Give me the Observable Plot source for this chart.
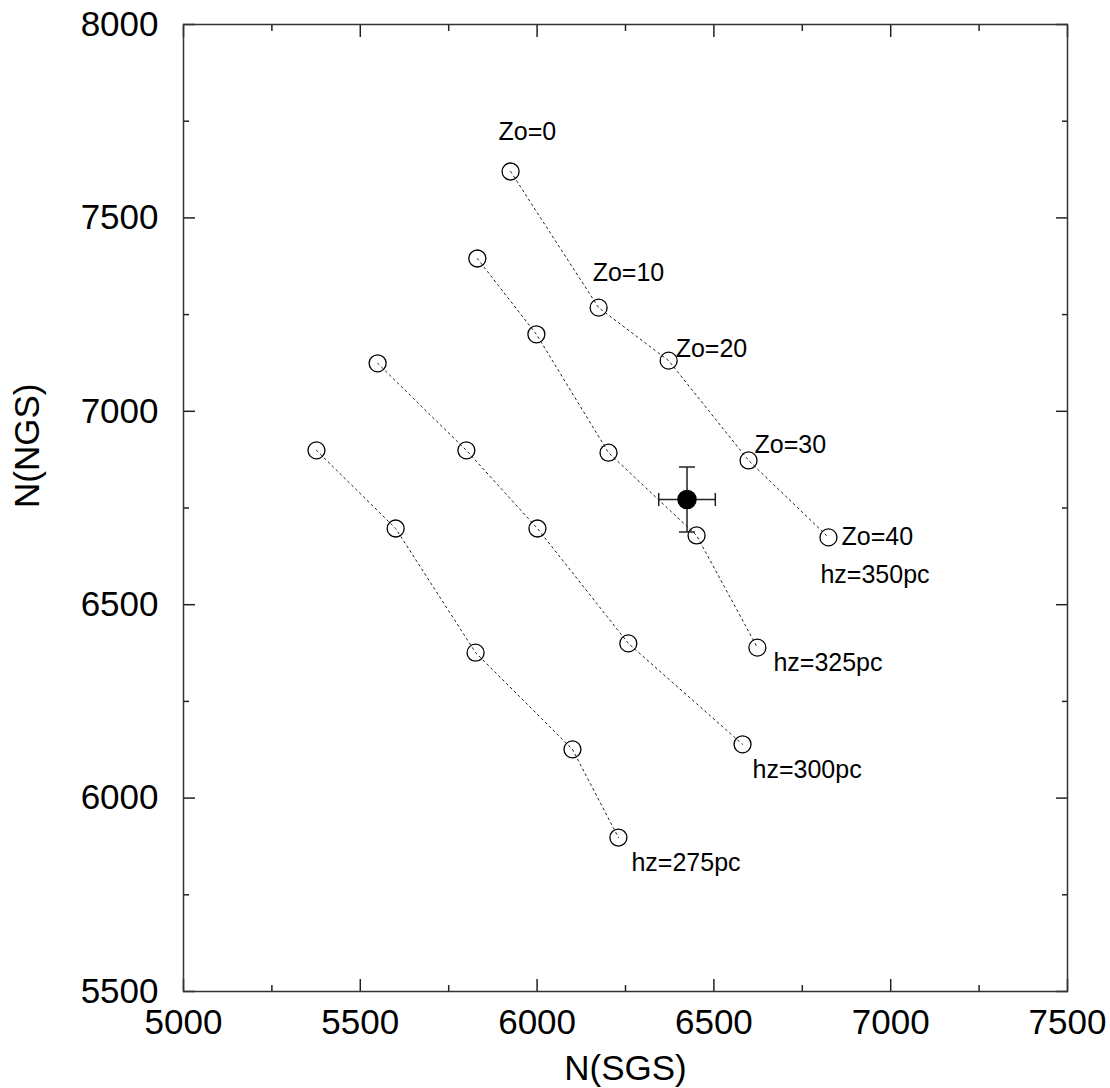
<!DOCTYPE html>
<html>
<head>
<meta charset="utf-8">
<script src="https://cdn.jsdelivr.net/npm/d3@7"></script>
<script src="https://cdn.jsdelivr.net/npm/@observablehq/plot@0.6"></script>
<style>
  body { margin: 0; background: #fff; }
  #chart svg { display: block; }
</style>
</head>
<body>
<div id="chart"></div>
<script>
// ---- data ----
const zoValues = [0, 10, 20, 30, 40];
const hzValues = [275, 300, 325, 350];
const hz275X = [5376, 5600, 5826, 6100, 6230];
const hz275Y = [6899, 6697, 6376, 6126, 5898];
const hz300X = [5549, 5800, 6001, 6258, 6581];
const hz300Y = [7124, 6899, 6697, 6400, 6139];
const hz325X = [5831, 5998, 6202, 6451, 6623];
const hz325Y = [7395, 7199, 6893, 6679, 6389];
const hz350X = [5925, 6174, 6372, 6598, 6824];
const hz350Y = [7620, 7268, 7131, 6873, 6674];
const obsX = [6424];
const obsY = [6772];
const obsErrX = [80];
const obsErrY = [84];
const xTicksMajor = [5000, 5500, 6000, 6500, 7000, 7500];
const xTicksMinor = [5250, 5750, 6250, 6750, 7250];
const yTicksMajor = [5500, 6000, 6500, 7000, 7500, 8000];
const yTicksMinor = [5750, 6250, 6750, 7250, 7750];
const xTitle = "N(SGS)";
const yTitle = "N(NGS)";

// ---- build table ----
const seriesX = [hz275X, hz300X, hz325X, hz350X];
const seriesY = [hz275Y, hz300Y, hz325Y, hz350Y];
const models = [];
hzValues.forEach((hz, s) => {
  zoValues.forEach((zo, i) => {
    models.push({hz, zo, x: seriesX[s][i], y: seriesY[s][i]});
  });
});
const obs = obsX.map((x, i) => ({x, y: obsY[i], ex: obsErrX[i], ey: obsErrY[i]}));
const capsV = obs.flatMap(d => [{x: d.x - d.ex, y: d.y}, {x: d.x + d.ex, y: d.y}]);
const capsH = obs.flatMap(d => [{x: d.x, y: d.y - d.ey}, {x: d.x, y: d.y + d.ey}]);

const vbar = {draw(ctx, size) { const r = Math.sqrt(size / Math.PI); ctx.moveTo(0, -r); ctx.lineTo(0, r); }};
const hbar = {draw(ctx, size) { const r = Math.sqrt(size / Math.PI); ctx.moveTo(-r, 0); ctx.lineTo(r, 0); }};

const font = "Liberation Sans, Arial, Helvetica, sans-serif";
const labelSize = 25;
const pt = (hz, zo) => models.filter(d => d.hz === hz && d.zo === zo);
const label = (data, text, dx, dy) => Plot.text(data, {x: "x", y: "y", text: () => text, dx, dy, textAnchor: "start", fontSize: labelSize, fill: "#000"});

const blank = () => "";
const tickStyle = {stroke: "#222", strokeWidth: 1.5};

const chart = Plot.plot({
  width: 1110,
  height: 1088,
  marginLeft: 183,
  marginRight: 43,
  marginTop: 24,
  marginBottom: 97,
  style: {fontFamily: font, background: "#fff", color: "#000"},
  x: {domain: [5000, 7500], label: null},
  y: {domain: [5500, 8000], label: null},
  marks: [
    // tick labels
    Plot.axisX(xTicksMajor, {anchor: "bottom", tickSize: 0, tickPadding: 18, fontSize: 35, label: null, tickFormat: d => String(d)}),
    Plot.axisY(yTicksMajor, {anchor: "left", tickSize: 0, tickPadding: 25, fontSize: 35, label: null, tickFormat: d => String(d)}),
    // inward ticks on all sides
    Plot.axisX(xTicksMajor, {anchor: "bottom", tickSize: -12, tickFormat: blank, label: null, ...tickStyle}),
    Plot.axisX(xTicksMinor, {anchor: "bottom", tickSize: -6, tickFormat: blank, label: null, ...tickStyle}),
    Plot.axisX(xTicksMajor, {anchor: "top", tickSize: -12, tickFormat: blank, label: null, ...tickStyle}),
    Plot.axisX(xTicksMinor, {anchor: "top", tickSize: -6, tickFormat: blank, label: null, ...tickStyle}),
    Plot.axisY(yTicksMajor, {anchor: "left", tickSize: -12, tickFormat: blank, label: null, ...tickStyle}),
    Plot.axisY(yTicksMinor, {anchor: "left", tickSize: -6, tickFormat: blank, label: null, ...tickStyle}),
    Plot.axisY(yTicksMajor, {anchor: "right", tickSize: -12, tickFormat: blank, label: null, ...tickStyle}),
    Plot.axisY(yTicksMinor, {anchor: "right", tickSize: -6, tickFormat: blank, label: null, ...tickStyle}),
    Plot.frame({stroke: "#333", strokeWidth: 1.5}),
    // axis titles
    Plot.text([xTitle], {frameAnchor: "bottom", dy: 88, fontSize: 35, fill: "#000"}),
    Plot.text([yTitle], {frameAnchor: "left", dx: -156, rotate: -90, fontSize: 35, fill: "#000"}),
    // model lines and points
    Plot.line(models, {x: "x", y: "y", z: "hz", stroke: "#222", strokeWidth: 1, strokeDasharray: "2,3.5"}),
    Plot.dot(models, {x: "x", y: "y", r: 8.5, stroke: "#000", strokeWidth: 1.3, fill: "none"}),
    // observed point with error bars
    Plot.link(obs, {x1: d => d.x - d.ex, x2: d => d.x + d.ex, y1: "y", y2: "y", stroke: "#222", strokeWidth: 1.5}),
    Plot.link(obs, {x1: "x", x2: "x", y1: d => d.y - d.ey, y2: d => d.y + d.ey, stroke: "#222", strokeWidth: 1.5}),
    Plot.dot(capsV, {x: "x", y: "y", symbol: vbar, r: 6.5, stroke: "#222", strokeWidth: 1.5}),
    Plot.dot(capsH, {x: "x", y: "y", symbol: hbar, r: 8, stroke: "#222", strokeWidth: 1.5}),
    Plot.dot(obs, {x: "x", y: "y", r: 9, fill: "#000", stroke: "#000"}),
    // labels
    label(pt(350, 0), `Zo=${zoValues[0]}`, -12, -39),
    label(pt(350, 10), `Zo=${zoValues[1]}`, -6, -35),
    label(pt(350, 20), `Zo=${zoValues[2]}`, 7, -12),
    label(pt(350, 30), `Zo=${zoValues[3]}`, 6, -15),
    label(pt(350, 40), `Zo=${zoValues[4]}`, 13, 0),
    label(pt(350, 40), `hz=${hzValues[3]}pc`, -8, 38),
    label(pt(325, 40), `hz=${hzValues[2]}pc`, 16, 15),
    label(pt(300, 40), `hz=${hzValues[1]}pc`, 10, 26),
    label(pt(275, 40), `hz=${hzValues[0]}pc`, 13, 25)
  ]
});
document.getElementById("chart").appendChild(chart);
</script>
</body>
</html>
